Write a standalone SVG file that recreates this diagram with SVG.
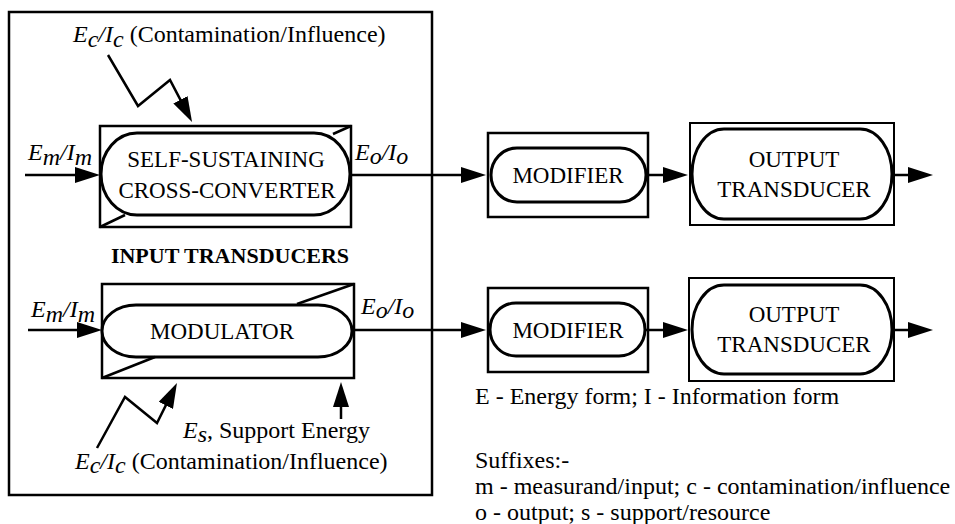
<svg xmlns="http://www.w3.org/2000/svg" width="955" height="524" viewBox="0 0 955 524">
  <style>
    text { font-family: "Liberation Serif", "Times New Roman", serif; fill: #000; }
    .node-text { font-size: 23px; text-anchor: middle; }
    .label { font-size: 24px; }
    .title { font-size: 22px; font-weight: bold; text-anchor: middle; }
    .it { font-style: italic; }
    .frame { fill: none; stroke: #000; stroke-width: 2.5; }
    .pill { fill: #fff; stroke: #000; stroke-width: 3; }
    .box { fill: #fff; stroke: #000; stroke-width: 2.5; }
    .wedge { fill: none; stroke: #000; stroke-width: 2.5; }
    .wire { fill: none; stroke: #000; stroke-width: 2.5; marker-end: url(#head); }
  </style>
  <defs>
    <marker id="head" viewBox="0 0 25 16" refX="15" refY="8" markerWidth="25" markerHeight="16" markerUnits="userSpaceOnUse" orient="auto">
      <path d="M0,0 L25,8 L0,16 Z" fill="#000"/>
    </marker>
  </defs>

  <rect width="955" height="524" fill="#fff"/>

  <!-- enclosure for the input transducers -->
  <g id="input-transducers">
    <rect class="frame" x="9" y="12" width="423" height="483"/>
    <text class="title" x="230" y="263">INPUT TRANSDUCERS</text>
  </g>

  <!-- self-sustaining cross-converter -->
  <g id="cross-converter">
    <rect class="box" x="100" y="126" width="251" height="101"/>
    <rect class="pill" x="101" y="133" width="249" height="82" rx="36" ry="41"/>
    <line class="wedge" x1="351" y1="126" x2="333" y2="134"/>
    <line class="wedge" x1="100" y1="227" x2="125" y2="215"/>
    <text class="node-text" x="226" y="167">SELF-SUSTAINING</text>
    <text class="node-text" x="227" y="198">CROSS-CONVERTER</text>
  </g>

  <!-- modulator -->
  <g id="modulator">
    <rect class="box" x="102" y="284" width="252" height="94"/>
    <rect class="pill" x="102" y="305" width="250" height="52" rx="34" ry="26"/>
    <line class="wedge" x1="354" y1="284" x2="297" y2="304"/>
    <line class="wedge" x1="102" y1="378" x2="155" y2="357"/>
    <text class="node-text" x="222" y="339">MODULATOR</text>
  </g>

  <!-- signal-conditioning stages -->
  <g id="modifier-1">
    <rect class="box" x="488" y="133" width="160" height="84"/>
    <rect class="pill" x="491" y="148" width="155" height="54" rx="26" ry="27"/>
    <text class="node-text" x="568" y="183">MODIFIER</text>
  </g>
  <g id="modifier-2">
    <rect class="box" x="488" y="288" width="160" height="84"/>
    <rect class="pill" x="490" y="303" width="155" height="53" rx="26" ry="26.5"/>
    <text class="node-text" x="568" y="338">MODIFIER</text>
  </g>

  <!-- output transducers -->
  <g id="output-transducer-1">
    <rect class="box" x="690" y="123" width="204" height="102" style="stroke-width:2"/>
    <rect class="pill" x="692" y="129" width="200" height="90" rx="32" ry="45"/>
    <text class="node-text" x="794" y="167">OUTPUT</text>
    <text class="node-text" x="794" y="197">TRANSDUCER</text>
  </g>
  <g id="output-transducer-2">
    <rect class="box" x="689" y="278" width="205" height="103" style="stroke-width:2"/>
    <rect class="pill" x="692" y="285" width="200" height="89" rx="32" ry="44.5"/>
    <text class="node-text" x="794" y="322">OUTPUT</text>
    <text class="node-text" x="794" y="352">TRANSDUCER</text>
  </g>

  <!-- signal paths -->
  <g id="connectors">
    <line class="wire" x1="25" y1="175" x2="90" y2="175"/>
    <line class="wire" x1="350" y1="175" x2="476" y2="175"/>
    <line class="wire" x1="646" y1="175" x2="678" y2="175"/>
    <line class="wire" x1="892" y1="175" x2="923" y2="175"/>

    <line class="wire" x1="28" y1="330" x2="92" y2="330"/>
    <line class="wire" x1="352" y1="330" x2="476" y2="330"/>
    <line class="wire" x1="645" y1="330" x2="678" y2="330"/>
    <line class="wire" x1="892" y1="330" x2="923" y2="330"/>

    <!-- interfering inputs (zig-zag) and support energy -->
    <polyline class="wire" points="108,55 138,106 170,80 187.4,113.1"/>
    <polyline class="wire" points="97,448 125,397 157,423 172.5,391.9"/>
    <line class="wire" x1="341" y1="419" x2="341" y2="392"/>
  </g>

  <!-- signal labels -->
  <g id="labels">
    <text class="label" x="73" y="42"><tspan class="it">E</tspan><tspan class="it" dy="5">c</tspan><tspan class="it" dy="-5">/I</tspan><tspan class="it" dy="5">c</tspan><tspan dy="-5"> (Contamination/Influence)</tspan></text>
    <text class="label" x="28" y="160"><tspan class="it">E</tspan><tspan class="it" dy="5">m</tspan><tspan class="it" dy="-5">/I</tspan><tspan class="it" dy="5">m</tspan></text>
    <text class="label" x="355" y="160"><tspan class="it">E</tspan><tspan class="it" dy="4">o</tspan><tspan class="it" dy="-4">/I</tspan><tspan class="it" dy="4">o</tspan></text>
    <text class="label" x="31" y="317"><tspan class="it">E</tspan><tspan class="it" dy="5">m</tspan><tspan class="it" dy="-5">/I</tspan><tspan class="it" dy="5">m</tspan></text>
    <text class="label" x="361" y="314"><tspan class="it">E</tspan><tspan class="it" dy="4">o</tspan><tspan class="it" dy="-4">/I</tspan><tspan class="it" dy="4">o</tspan></text>
    <text class="label" x="183" y="438"><tspan class="it">E</tspan><tspan class="it" dy="4">s</tspan><tspan dy="-4">, Support Energy</tspan></text>
    <text class="label" x="75" y="469"><tspan class="it">E</tspan><tspan class="it" dy="4">c</tspan><tspan class="it" dy="-4">/I</tspan><tspan class="it" dy="4">c</tspan><tspan dy="-4"> (Contamination/Influence)</tspan></text>
  </g>

  <!-- key -->
  <g id="legend">
    <text class="label" x="475" y="404">E - Energy form; I - Information form</text>
    <text class="label" x="475" y="468">Suffixes:-</text>
    <text class="label" x="475" y="494">m - measurand/input; c - contamination/influence</text>
    <text class="label" x="475" y="520">o - output; s - support/resource</text>
  </g>
</svg>
